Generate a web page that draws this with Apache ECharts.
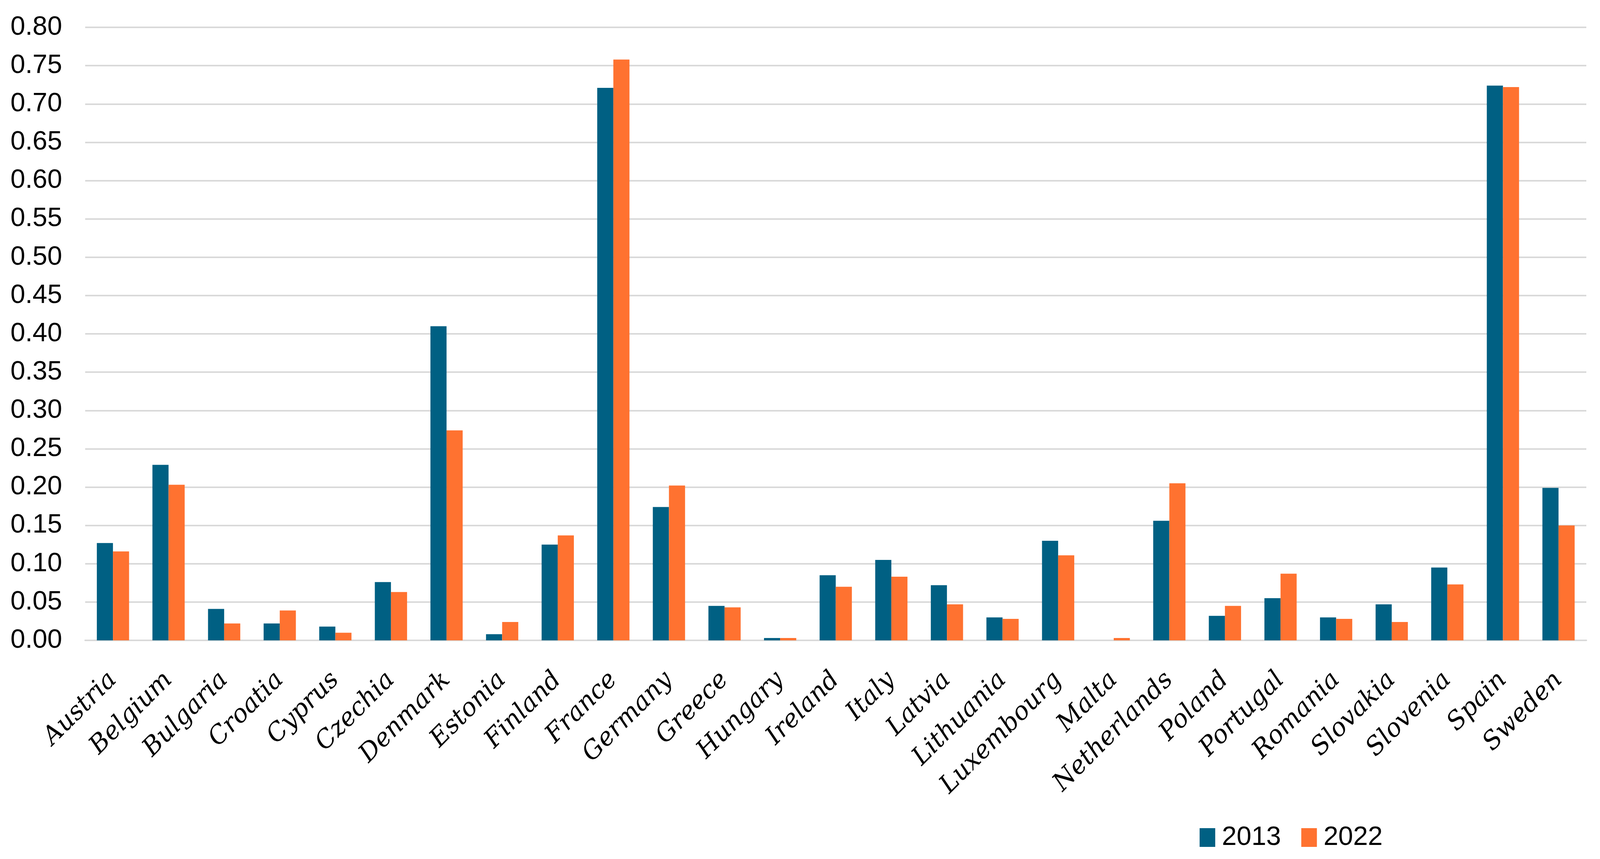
<!DOCTYPE html>
<html>
<head>
<meta charset="utf-8">
<script src="https://cdn.jsdelivr.net/npm/echarts@6/dist/echarts.min.js"></script>
<style>
html,body{margin:0;padding:0;background:#fff;overflow:hidden;}
#chart{width:100vw;height:100vh;}
</style>
</head>
<body>
<div id="chart"></div>
<script>
var categories = ["Austria","Belgium","Bulgaria","Croatia","Cyprus","Czechia","Denmark","Estonia","Finland","France","Germany","Greece","Hungary","Ireland","Italy","Latvia","Lithuania","Luxembourg","Malta","Netherlands","Poland","Portugal","Romania","Slovakia","Slovenia","Spain","Sweden"];
var values2013 = [0.127,0.229,0.041,0.022,0.018,0.076,0.410,0.008,0.125,0.721,0.174,0.045,0.003,0.085,0.105,0.072,0.030,0.130,0,0.156,0.032,0.055,0.030,0.047,0.095,0.724,0.199];
var values2022 = [0.116,0.203,0.022,0.039,0.010,0.063,0.274,0.024,0.137,0.758,0.202,0.043,0.003,0.070,0.083,0.047,0.028,0.111,0.003,0.205,0.045,0.087,0.028,0.024,0.073,0.722,0.150];
var seriesNames = ["2013","2022"];

var el = document.getElementById('chart');
var chart = echarts.init(el);
var W = el.clientWidth || 4313;
var sx = W / 4313;
var sansFont = '"Liberation Sans",Arial,sans-serif';
chart.setOption({
  animation:false,
  backgroundColor:'#ffffff',
  color:['#006083','#FF7230'],
  legend:{
    data:seriesNames,
    left:Math.round(3228*sx),
    top:2106,
    itemWidth:40,
    itemHeight:48,
    itemGap:Math.round(55*sx),
    icon:'rect',
    textStyle:{fontFamily:sansFont,fontSize:68,color:'#000',padding:[0,0,0,12]}
  },
  grid:{left:Math.round(230*sx),right:Math.round(37*sx),top:70,bottom:560,containLabel:false},
  xAxis:{
    type:'category',
    data:categories,
    axisTick:{show:false},
    axisLine:{lineStyle:{color:'#d9d9d9',width:4}},
    axisLabel:{
      rotate:45,
      interval:0,
      margin:92,
      color:'#000',
      fontFamily:'"DejaVu Serif","Liberation Serif",serif',
      fontStyle:'italic',
      fontSize:64
    }
  },
  yAxis:{
    type:'value',
    min:0,
    max:0.8,
    interval:0.05,
    axisLine:{show:false},
    axisTick:{show:false},
    splitLine:{lineStyle:{color:'#d9d9d9',width:4}},
    axisLabel:{
      margin:Math.round(62*sx),
      color:'#000',
      fontFamily:sansFont,
      fontSize:68,
      formatter:function(v){return v.toFixed(2);}
    }
  },
  series:[
    {name:seriesNames[0],type:'bar',data:values2013,barGap:'0%',barCategoryGap:'42%'},
    {name:seriesNames[1],type:'bar',data:values2022,barGap:'0%',barCategoryGap:'42%'}
  ]
});
</script>
</body>
</html>
